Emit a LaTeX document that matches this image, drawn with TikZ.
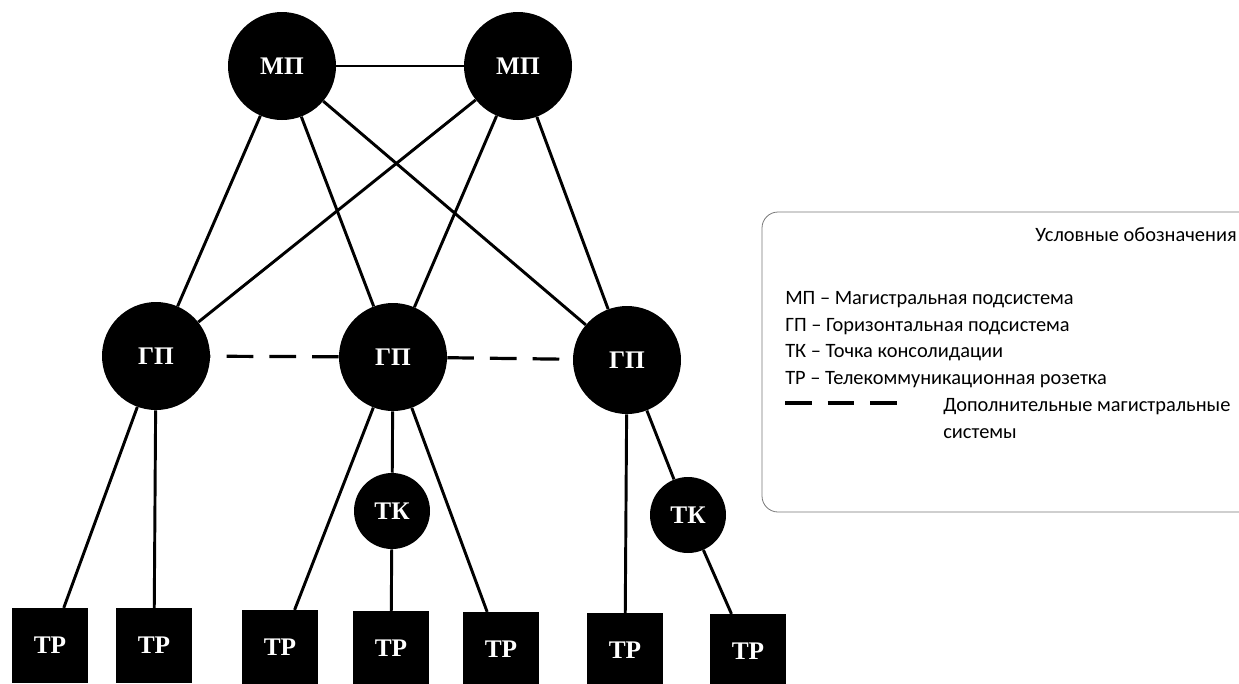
\documentclass[tikz,border=0pt]{standalone}
\usepackage{fontspec}
\setmainfont{Liberation Serif}
\newfontfamily\legendfont{Carlito}

\tikzset{
  hub/.style={circle,fill=black,text=white,inner sep=0pt,minimum size=81pt,font=\fontsize{19}{19}\selectfont\bfseries},
  joint/.style={circle,fill=black,text=white,inner sep=0pt,minimum size=57pt,font=\fontsize{19}{19}\selectfont\bfseries},
  socket/.style={rectangle,fill=black,text=white,inner sep=0pt,minimum width=57pt,minimum height=56pt,font=\fontsize{19}{19}\selectfont\bfseries},
  link/.style={line width=2.2pt},
  extra/.style={line width=2.4pt,dash pattern=on 20pt off 12pt},
  legendtext/.style={anchor=west,inner sep=0pt,font=\legendfont\fontsize{15.3}{18}\selectfont}
}

\begin{document}
\begin{tikzpicture}[x=0.75pt,y=0.75pt,yscale=-1,xscale=1]
\useasboundingbox (0,0) rectangle (1239,683);

%Shape: Circle [id:mp]
\node[hub] (mpl) at (282,66) {МП};
\node[hub] (mpr) at (518,66) {МП};
%Shape: Circle [id:gp]
\node[hub] (gpl) at (156,356) {ГП};
\node[hub] (gpm) at (393,357) {ГП};
\node[hub] (gpr) at (627,360) {ГП};
%Shape: Circle [id:tk]
\node[joint] (tkm) at (392,511) {ТК};
\node[joint] (tkr) at (688,515) {ТК};
%Shape: Rectangle [id:tr]
\node[socket] (tr1) at (50,645.5) {ТР};
\node[socket] (tr2) at (154,645.5) {ТР};
\node[socket] (tr3) at (280,647.5) {ТР};
\node[socket] (tr4) at (391,648.5) {ТР};
\node[socket] (tr5) at (501,649.5) {ТР};
\node[socket] (tr6) at (625,650.5) {ТР};
\node[socket] (tr7) at (748,651.5) {ТР};

%Straight Lines [id:backbone]
\draw[link] (mpl) -- (mpr) ;
\draw[link] (mpl) -- (gpl) ;
\draw[link] (mpl) -- (gpm) ;
\draw[link] (mpl) -- (gpr) ;
\draw[link] (mpr) -- (gpl) ;
\draw[link] (mpr) -- (gpm) ;
\draw[link] (mpr) -- (gpr) ;
%Straight Lines [id:horizontal]
\draw[link] (gpl) -- (tr1) ;
\draw[link] (gpl) -- (tr2) ;
\draw[link] (gpm) -- (tr3) ;
\draw[link] (gpm) -- (tkm) ;
\draw[link] (tkm) -- (tr4) ;
\draw[link] (gpm) -- (tr5) ;
\draw[link] (gpr) -- (tr6) ;
\draw[link] (gpr) -- (tkr) ;
\draw[link] (tkr) -- (tr7) ;
%Dashed Lines [id:extra]
\draw[extra] (gpm) -- (gpl) ;
\draw[extra] (gpm) -- (gpr) ;

%Shape: Rectangle [id:legend]
\draw[color={rgb, 255:red, 120; green, 120; blue, 120 },line width=0.6pt,rounded corners=12pt] (762,212) rectangle (1260,512) ;
\node[legendtext,anchor=east] (title) at (1237,235) {Условные обозначения};
\node[legendtext] (keymp) at (785,300) {МП – Магистральная подсистема};
\node[legendtext] (keygp) at (785,327) {ГП – Горизонтальная подсистема};
\node[legendtext] (keytk) at (785,353) {ТК – Точка консолидации};
\node[legendtext] (keytr) at (785,380) {ТР – Телекоммуникационная розетка};
\coordinate (dashstart) at (785,403);
\coordinate (dashend) at (897,403);
\draw[extra] (dashstart) -- (dashend) ;
\node[legendtext] (keyextra) at (943,407) {Дополнительные магистральные};
\node[legendtext] (keyextra2) at (943,434) {системы};

\end{tikzpicture}
\end{document}
